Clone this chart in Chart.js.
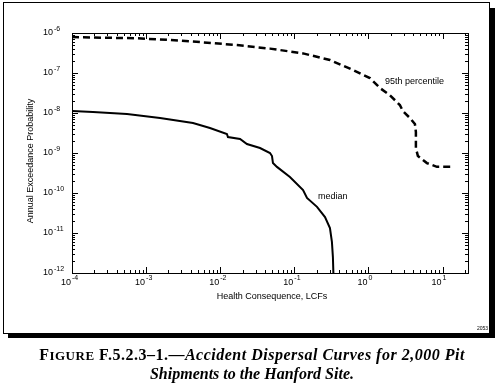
<!DOCTYPE html>
<html>
<head>
<meta charset="utf-8">
<script src="https://cdn.jsdelivr.net/npm/chart.js@4"></script>
<style>
  body { margin: 0; background: #fff; }
  #wrap { position: relative; width: 504px; height: 392px; }
  canvas { position: absolute; left: 0; top: 0; }
  .caption { position: absolute; left: 0; width: 504px; text-align: center; font-family: "Liberation Serif", serif; font-weight: bold; font-size: 16px; color: #000; white-space: nowrap; }
  .sc { font-size: 13px; }
</style>
</head>
<body>
<div id="wrap">
  <canvas id="chart" width="504" height="392"></canvas>
  <div class="caption" style="top:346px; letter-spacing:0.5px">F<span class="sc">IGURE</span> F.5.2.3–1.—<i>Accident Dispersal Curves for 2,000 Pit</i></div>
  <div class="caption" style="top:365px"><i>Shipments to the Hanford Site.</i></div>
</div>
<script>
// median curve (solid)
const medianX = [1e-4, 1.92e-4, 5.52e-4, 1.54e-3, 4.29e-3, 7.26e-3, 1.23e-2, 1.27e-2, 1.85e-2, 2.29e-2,
  3.44e-2, 4.69e-2, 4.99e-2, 5.14e-2, 5.82e-2, 8.71e-2, 0.131, 0.148, 0.202, 0.259, 0.302, 0.321, 0.331, 0.336];
const medianP = [1.12e-8, 1.06e-8, 9.44e-9, 7.5e-9, 5.62e-9, 4.22e-9, 2.99e-9, 2.51e-9, 2.24e-9, 1.68e-9,
  1.33e-9, 1.0e-9, 8.4e-10, 5.6e-10, 4.5e-10, 2.5e-10, 1.19e-10, 7.5e-11, 4.5e-11, 2.5e-11, 1.33e-11, 6.0e-12, 2.5e-12, 1.0e-12];

// 95th percentile curve (dashed)
const upperX = [1e-4, 2.62e-4, 7.53e-4, 2.1e-3, 5.85e-3, 1.68e-2, 4.69e-2, 0.131, 0.302, 0.617, 1.045,
  1.43, 1.94, 2.65, 2.91, 3.62, 4.23, 4.36, 4.36, 4.64, 6.14, 8.37, 13.3];
const upperP = [7.94e-7, 7.63e-7, 7.37e-7, 6.68e-7, 5.85e-7, 5.0e-7, 4.07e-7, 3.09e-7, 2.11e-7, 1.19e-7, 7.5e-8,
  4.2e-8, 2.8e-8, 1.58e-8, 1.12e-8, 7.5e-9, 5.3e-9, 3.35e-9, 1.33e-9, 8.4e-10, 5.6e-10, 4.5e-10, 4.5e-10];

const xDecades = [-4, -3, -2, -1, 0, 1];
const yDecades = [-6, -7, -8, -9, -10, -11, -12];
const xTitle = "Health Consequence, LCFs";
const yTitle = "Annual Exceedance Probability";

const labelFont = '9px "Liberation Sans", Arial, sans-serif';
const expFont = '7px "Liberation Sans", Arial, sans-serif';

const frameAxes = {
  id: "frameAxes",
  afterDraw(chart) {
    const { ctx, chartArea: a, scales: { x, y } } = chart;
    ctx.save();
    ctx.strokeStyle = "#000";
    ctx.fillStyle = "#000";
    ctx.lineWidth = 1;

    // figure frame with drop shadow
    ctx.strokeRect(3.5, 2.5, 486, 331);
    ctx.fillRect(489, 8, 6, 330);
    ctx.fillRect(8, 333, 487, 5);

    // plot box
    ctx.strokeRect(a.left + 0.5, a.top + 0.5, a.right - a.left, a.bottom - a.top);

    // inward tick marks
    ctx.beginPath();
    for (let d = -4; d <= 1; d++) {
      for (let m = 1; m <= 9; m++) {
        const v = m * Math.pow(10, d);
        if (v > x.max) break;
        const px = Math.round(x.getPixelForValue(v)) + 0.5;
        const len = m === 1 ? 6 : 3;
        ctx.moveTo(px, a.bottom);
        ctx.lineTo(px, a.bottom - len);
        ctx.moveTo(px, a.top);
        ctx.lineTo(px, a.top + len);
      }
    }
    for (let d = -12; d <= -6; d++) {
      for (let m = 1; m <= 9; m++) {
        const v = m * Math.pow(10, d);
        if (v > y.max * 1.0001) break;
        const py = Math.round(y.getPixelForValue(v)) + 0.5;
        const len = m === 1 ? 6 : 3;
        ctx.moveTo(a.left, py);
        ctx.lineTo(a.left + len, py);
        ctx.moveTo(a.right, py);
        ctx.lineTo(a.right - len, py);
      }
    }
    ctx.stroke();

    // tick labels: 10 with superscript exponent
    ctx.textBaseline = "middle";
    xDecades.forEach((d) => {
      const px = x.getPixelForValue(Math.pow(10, d));
      ctx.font = labelFont;
      ctx.textAlign = "right";
      ctx.fillText("10", px - 1, a.bottom + 10);
      ctx.font = expFont;
      ctx.textAlign = "left";
      ctx.fillText(String(d), px, a.bottom + 5);
    });
    yDecades.forEach((d) => {
      const py = y.getPixelForValue(Math.pow(10, d));
      ctx.font = labelFont;
      ctx.textAlign = "left";
      ctx.fillText("10", 43, py);
      const w = ctx.measureText("10").width;
      ctx.font = expFont;
      ctx.fillText(String(d), 43 + w + 1, py - 4);
    });

    // axis titles
    ctx.font = labelFont;
    ctx.textAlign = "center";
    ctx.fillText(xTitle, 272, 297);
    ctx.save();
    ctx.translate(31, 161);
    ctx.rotate(-Math.PI / 2);
    ctx.fillText(yTitle, 0, 0);
    ctx.restore();

    // curve labels
    ctx.textAlign = "left";
    ctx.fillText("95th percentile", 385, 82);
    ctx.fillText("median", 318, 197);

    // drawing number
    ctx.font = '5px "Liberation Sans", Arial, sans-serif';
    ctx.textAlign = "right";
    ctx.fillText("2053", 488, 329);
    ctx.restore();
  }
};

new Chart(document.getElementById("chart"), {
  type: "line",
  data: {
    datasets: [
      {
        label: "median",
        data: medianX.map((v, i) => ({ x: v, y: medianP[i] })),
        borderColor: "#000",
        borderWidth: 2,
        pointRadius: 0,
        tension: 0,
      },
      {
        label: "95th percentile",
        data: upperX.map((v, i) => ({ x: v, y: upperP[i] })),
        borderColor: "#000",
        borderWidth: 2.5,
        borderDash: [7, 4],
        pointRadius: 0,
        tension: 0,
      },
    ],
  },
  options: {
    responsive: false,
    animation: false,
    devicePixelRatio: 1,
    layout: { padding: { left: 72, top: 33, right: 36, bottom: 119 } },
    plugins: { legend: { display: false }, tooltip: { enabled: false } },
    scales: {
      x: { type: "logarithmic", min: 1e-4, max: 22, display: false },
      y: { type: "logarithmic", min: 1e-12, max: 1e-6, display: false },
    },
  },
  plugins: [frameAxes],
});
</script>
</body>
</html>
